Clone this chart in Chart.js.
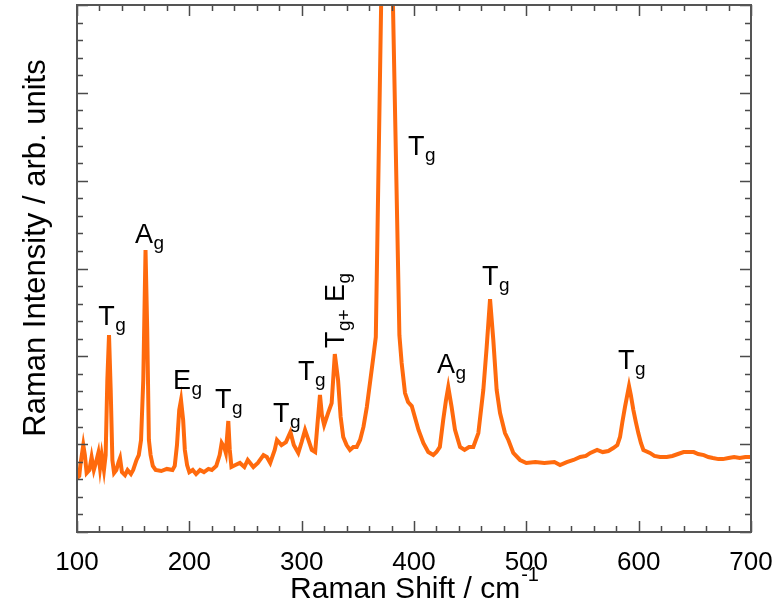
<!DOCTYPE html>
<html><head><meta charset="utf-8">
<script src="https://cdn.jsdelivr.net/npm/chart.js@4.4.1/dist/chart.umd.min.js"></script>
<style>html,body{margin:0;padding:0;background:#fff}canvas{display:block}</style>
</head><body>
<canvas id="c" width="779" height="609"></canvas>
<script>
// Raman shift (cm^-1)
const ramanShift = [100,102,103,105.6,107,108.6,111,113,115,117,119,120.5,122,124,125.5,127,128.5,130,131.5,133,135,137,138.3,140,142.7,145,148,150,153,155,157,159,161,162.5,164,165.5,167.5,170,175,180,185,187,189,191,192.6,194.5,196,198,200,203,206,209.5,213,217,220,224,227,228.8,231,232.5,234.7,236,237.5,241,245,249,252,257,261,266,269,272,276,278,282,286,290,293,297,300,303,306,309,312,314,316.3,318,320,323.5,326.7,329.5,332.4,334.7,337,340,343,346,349,352,355,358,360.8,363.8,366,375.5,387,389,392,394.7,398,401,404,408.3,412.7,417.2,420,423,426,428.5,430.5,433.5,436.5,441,445,449,452.8,457.3,461.7,464.7,467.7,470.6,473.6,476.6,481,484,488.4,494.4,500,508,516,525,530,536,542,548,553,557,563,568,573,577.4,581,583.4,585.5,587.8,591.4,593,595.3,597.5,599.7,602,604.2,610,614,619,625,630,635,640,645,649,653,658,662,666,671,675,680,685,690,695,700];
// Raman intensity (arb. units)
const intensity = [3.07,3.19,3.81,4.95,4.38,3.36,3.53,4.27,3.53,3.98,4.50,3.64,4.38,3.53,4.38,8.65,11.21,8.08,4.10,3.36,3.53,3.98,4.21,3.41,3.24,3.53,3.30,3.53,4.10,4.38,5.24,8.65,16.05,11.5,5.24,4.38,3.76,3.53,3.47,3.59,3.53,3.76,4.95,6.94,7.51,6.37,4.67,3.81,3.41,3.53,3.30,3.53,3.41,3.59,3.53,3.76,4.38,5.07,4.84,4.50,6.32,4.67,3.70,3.81,3.93,3.70,4.10,3.70,3.93,4.38,4.27,3.93,4.67,5.24,4.95,5.12,5.69,4.95,4.50,5.12,5.81,5.24,4.67,4.55,6.09,7.80,6.66,6.09,6.77,7.34,10.13,8.65,6.55,5.41,4.95,4.67,4.84,4.84,5.24,5.98,7.11,8.48,9.96,11.1,49.0,11.2,9.62,7.91,7.40,7.17,6.49,5.81,5.07,4.55,4.38,4.55,4.84,6.37,7.51,8.25,7.11,5.81,4.84,4.67,4.84,4.84,5.63,8.08,10.53,13.26,10.93,8.08,6.77,5.63,5.24,4.50,4.10,3.93,3.98,3.93,3.98,3.81,3.98,4.10,4.27,4.33,4.50,4.67,4.55,4.61,4.78,4.95,5.41,6.26,7.11,8.31,7.80,6.94,6.26,5.63,5.07,4.67,4.50,4.33,4.27,4.27,4.33,4.44,4.55,4.55,4.55,4.44,4.38,4.27,4.21,4.15,4.15,4.21,4.27,4.21,4.27,4.27];
// axis settings
const xMin = 100, xMax = 700, xStep = 20, xMajor = 100;
const yMin = 0, yMax = 30, yStep = 1, yMajor = 5;
const xTitle = 'Raman Shift / cm', xTitleSup = '-1';
const yTitle = 'Raman Intensity / arb. units';
// peak assignments: [text, isSubscript] parts, anchored in data coordinates
const peakLabels = [
  {parts:[['T',0],['g',1]], x:119, y:11.78},
  {parts:[['A',0],['g',1]], x:151.6, y:16.47},
  {parts:[['E',0],['g',1]], x:185.5, y:8.14},
  {parts:[['T',0],['g',1]], x:222.9, y:7.06},
  {parts:[['T',0],['g',1]], x:274.5, y:6.28},
  {parts:[['T',0],['g',1]], x:296.7, y:8.65},
  {parts:[['T',0],['g+',1],[' E',0],['g',1]], x:337.7, y:10.47, rotate:true},
  {parts:[['T',0],['g',1]], x:394.7, y:21.46},
  {parts:[['T',0],['g',1]], x:460.5, y:14.06},
  {parts:[['A',0],['g',1]], x:420.5, y:9.05},
  {parts:[['T',0],['g',1]], x:581.6, y:9.28}
];

const FONT = "'Liberation Sans', Arial, Helvetica, sans-serif";

const framePlugin = {
  id: 'frame',
  afterDraw(chart) {
    const {ctx, chartArea: a, scales: {x, y}} = chart;
    ctx.save();
    // inward ticks
    ctx.strokeStyle = '#4a4a4a';
    ctx.lineWidth = 1.5;
    ctx.beginPath();
    for (let v = xMin; v <= xMax + 1e-9; v += xStep) {
      const px = Math.round(x.getPixelForValue(v)) + 0.5;
      const len = (Math.abs(v % xMajor) < 1e-9) ? 11 : 6;
      ctx.moveTo(px, a.bottom); ctx.lineTo(px, a.bottom - len);
      ctx.moveTo(px, a.top); ctx.lineTo(px, a.top + len);
    }
    for (let v = yMin; v <= yMax + 1e-9; v += yStep) {
      const py = Math.round(y.getPixelForValue(v)) + 0.5;
      const len = (Math.abs(v % yMajor) < 1e-9) ? 11 : 6;
      ctx.moveTo(a.left, py); ctx.lineTo(a.left + len, py);
      ctx.moveTo(a.right, py); ctx.lineTo(a.right - len, py);
    }
    ctx.stroke();
    // frame
    ctx.lineWidth = 2;
    ctx.strokeStyle = '#555';
    ctx.strokeRect(a.left, a.top, a.right - a.left, a.bottom - a.top);

    // axis titles
    ctx.fillStyle = '#000';
    ctx.textBaseline = 'alphabetic';
    ctx.font = '30px ' + FONT;
    const w1 = ctx.measureText(xTitle).width;
    ctx.font = '20px ' + FONT;
    const w2 = ctx.measureText(xTitleSup).width;
    const xc = 414;
    let sx = xc - (w1 + w2) / 2;
    ctx.font = '30px ' + FONT;
    ctx.textAlign = 'left';
    ctx.fillText(xTitle, sx, 598);
    ctx.font = '20px ' + FONT;
    ctx.fillText(xTitleSup, sx + w1 + 1, 581);

    ctx.save();
    ctx.translate(45, 248);
    ctx.rotate(-Math.PI / 2);
    ctx.font = '31px ' + FONT;
    ctx.textAlign = 'center';
    ctx.fillText(yTitle, 0, 0);
    ctx.restore();

    // peak labels
    for (const lab of peakLabels) {
      const px = x.getPixelForValue(lab.x), py = y.getPixelForValue(lab.y);
      ctx.save();
      ctx.translate(px, py);
      if (lab.rotate) ctx.rotate(-Math.PI / 2);
      ctx.textAlign = 'left';
      let cx = 0;
      for (const [t, isSub] of lab.parts) {
        ctx.font = (isSub ? '19px ' : '27px ') + FONT;
        ctx.fillText(t, cx, isSub ? 6 : 0);
        cx += ctx.measureText(t).width + (isSub ? 0 : 0.5);
      }
      ctx.restore();
    }
    ctx.restore();
  }
};

new Chart(document.getElementById('c'), {
  type: 'line',
  data: {
    datasets: [{
      data: ramanShift.map((s, i) => ({x: s, y: intensity[i]})),
      borderColor: '#ff6a0d',
      borderWidth: 4,
      pointRadius: 0,
      tension: 0,
      fill: false
    }]
  },
  options: {
    responsive: false,
    animation: false,
    devicePixelRatio: 1,
    layout: {padding: {top: 5, right: 28, left: 0, bottom: 0}},
    plugins: {legend: {display: false}, tooltip: {enabled: false}},
    scales: {
      x: {
        type: 'linear', min: xMin, max: xMax,
        afterFit(s) { s.height = 77; s.paddingLeft = 0; s.paddingRight = 0; },
        grid: {display: false, drawTicks: false},
        border: {display: false},
        ticks: {
          stepSize: xStep, autoSkip: false, maxRotation: 0, padding: 15,
          color: '#000', font: {family: FONT, size: 26},
          callback: v => (v % xMajor === 0 ? String(v) : '')
        }
      },
      y: {
        type: 'linear', min: yMin, max: yMax,
        afterFit(s) { s.width = 77; s.paddingTop = 0; s.paddingBottom = 0; },
        grid: {display: false, drawTicks: false},
        border: {display: false},
        ticks: {display: false, stepSize: yStep}
      }
    }
  },
  plugins: [framePlugin]
});
</script>
</body></html>
